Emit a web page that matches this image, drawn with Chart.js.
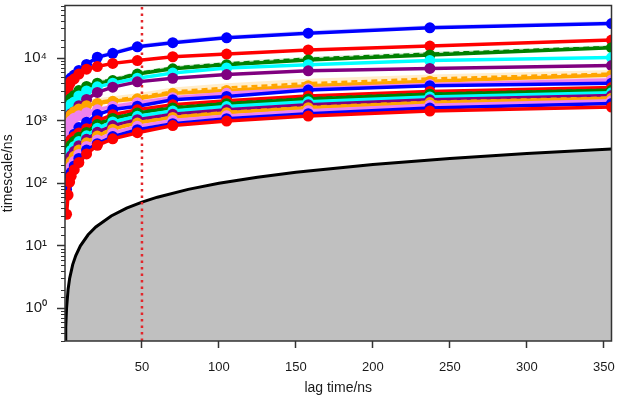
<!DOCTYPE html>
<html lang="en">
<head>
<meta charset="UTF-8">
<title>Implied timescales</title>
<script src="https://cdn.jsdelivr.net/npm/chart.js"></script>
<style>
    html, body { margin: 0; padding: 0; background: #fff; }
    canvas { display: block; }
</style>
</head>
<body>
<canvas id="itsChart" width="617" height="397"></canvas>
<script>
// lag times (ns) at which the timescales were estimated
const lagTimes = [1, 2, 3, 4, 6, 9, 14, 21, 31, 47, 70, 105, 158, 237, 355];
const xTicks = [50, 100, 150, 200, 250, 300, 350];

// maximum likelihood implied timescales (ns), slowest process first
const proc1  = [3600, 4300, 4600, 4900, 5400, 6400, 8000, 10400, 12000, 15300, 17800, 21300, 25200, 30800, 36000];
const proc2  = [2400, 3340, 3900, 4300, 4700, 5600, 6700, 7400, 8300, 9200, 10600, 11700, 13600, 15700, 19600];
const proc3  = [1600, 1930, 2150, 2300, 2550, 3050, 3550, 4000, 4400, 5600, 6800, 7900, 9400, 11300, 14800];
const proc4  = [1250, 1500, 1700, 1850, 2000, 2500, 3000, 3500, 4000, 4800, 5800, 7000, 7900, 9200, 10300];
const proc5  = [850, 1080, 1200, 1300, 1400, 1750, 2200, 2850, 3460, 4200, 4800, 5500, 6300, 6900, 7650];
const proc6  = [700, 950, 1100, 1250, 1400, 1550, 1750, 1900, 2050, 2250, 2750, 3050, 3650, 4300, 5400];
const proc7  = [650, 800, 900, 1000, 1100, 1200, 1350, 1500, 1700, 1950, 2350, 2750, 3250, 3800, 4500];
const proc8  = [250, 330, 420, 500, 610, 780, 950, 1260, 1520, 1710, 2180, 2460, 3100, 3640, 4000];
const proc9  = [300, 380, 450, 500, 560, 640, 750, 1000, 1250, 1500, 1800, 2100, 2500, 2950, 3400];
const proc10 = [240, 305, 365, 410, 470, 545, 650, 870, 1090, 1330, 1610, 1880, 2240, 2660, 3080];
const proc11 = [195, 245, 300, 335, 390, 465, 575, 760, 960, 1180, 1430, 1690, 2010, 2400, 2800];
const proc12 = [155, 195, 245, 275, 325, 400, 505, 655, 840, 1040, 1270, 1500, 1800, 2170, 2540];
const proc13 = [125, 155, 195, 225, 270, 340, 445, 570, 735, 920, 1130, 1350, 1620, 1960, 2300];
const proc14 = [100, 125, 160, 185, 225, 290, 390, 495, 640, 815, 1010, 1200, 1450, 1770, 2090];
const proc15 = [80, 100, 130, 150, 190, 250, 340, 430, 560, 720, 900, 1080, 1300, 1600, 1900];
const proc16 = [32, 65, 105, 130, 165, 215, 295, 405, 515, 645, 840, 990, 1190, 1430, 1660];

// sample means (dashed) for a few processes
const mean3  = [1650, 2000, 2250, 2400, 2650, 3150, 3700, 4150, 4600, 5800, 7100, 8300, 9900, 11900, 15200];
const mean6  = [760, 1020, 1180, 1330, 1480, 1640, 1850, 2010, 2170, 2400, 2950, 3400, 4000, 4750, 5700];
const mean10 = [250, 320, 380, 425, 490, 565, 675, 900, 1120, 1370, 1650, 1930, 2300, 2720, 3150];
const mean11 = [185, 235, 285, 320, 372, 445, 550, 730, 925, 1140, 1380, 1630, 1940, 2320, 2700];
const mean13 = [130, 162, 203, 234, 280, 352, 460, 590, 760, 950, 1170, 1390, 1670, 2020, 2370];

// confidence bands
const band1Hi = [3900, 4700, 5000, 5400, 6000, 7100, 8800, 11400, 13200, 16800, 19600, 23400, 27800, 33800, 39500];
const band3Hi = [1750, 2100, 2350, 2500, 2800, 3350, 3950, 4450, 4950, 6200, 7600, 8900, 10600, 12700, 16300];
const band6Lo = [650, 880, 1020, 1160, 1300, 1440, 1630, 1780, 1920, 2100, 2550, 2850, 3350, 3950, 4800];
const band6Hi = [880, 1180, 1350, 1520, 1700, 1880, 2100, 2300, 2480, 2750, 3400, 4000, 4700, 5500, 6500];
const band7Lo = [600, 740, 830, 920, 1010, 1100, 1240, 1380, 1560, 1780, 2150, 2520, 2980, 3480, 4100];
const band7Hi = [720, 890, 1000, 1100, 1210, 1320, 1480, 1650, 1870, 2150, 2600, 3050, 3600, 4200, 4950];

// timescale = lag time line; everything below it is not resolved
const diagLag = [0.3, 0.5, 1, 2, 3, 5, 7, 10, 15, 20, 30, 40, 50, 60, 80, 100, 125, 150, 200, 250, 300, 355];
const diagTau = [0.3, 0.5, 1, 2, 3, 5, 7, 10, 15, 20, 30, 40, 50, 60, 80, 100, 125, 150, 200, 250, 300, 355];

const chosenLag = 50;
const yMin = 0.3, yMax = 70000;

const procs = [proc1, proc2, proc3, proc4, proc5, proc6, proc7, proc8,
               proc9, proc10, proc11, proc12, proc13, proc14, proc15, proc16];
const palette = ['#0000ff', '#ff0000', '#008000', '#00ffff', '#800080', '#ffa500', '#ee82ee'];

const pts = ys => lagTimes.map((x, i) => ({ x: x, y: ys[i] }));
const isPow10 = v => { const e = Math.log10(v); return Math.abs(e - Math.round(e)) < 1e-9; };
const sup = { '0': '\u2070', '1': '\u00b9', '2': '\u00b2', '3': '\u00b3', '4': '\u2074' };

const datasets = [];

// grey region under the diagonal
datasets.push({
    data: diagLag.map((x, i) => ({ x: x, y: diagTau[i] })),
    borderColor: '#000', borderWidth: 3, backgroundColor: '#c0c0c0',
    fill: 'start', pointRadius: 0
});

// chosen lag time
datasets.push({
    data: [{ x: chosenLag, y: yMin }, { x: chosenLag, y: yMax }],
    borderColor: '#e3262b', borderWidth: 2.5, borderDash: [2.5, 4],
    pointRadius: 0, fill: false
});

function band(lo, hi, color) {
    datasets.push({ data: pts(lo), borderWidth: 0, pointRadius: 0, fill: false });
    datasets.push({ data: pts(hi), borderWidth: 0, pointRadius: 0, backgroundColor: color, fill: '-1' });
}
function dashed(ys, color) {
    datasets.push({ data: pts(ys), borderColor: color, borderWidth: 2.5, borderDash: [6, 4], pointRadius: 0, fill: false });
}

band(proc1, band1Hi, 'rgba(0,0,255,0.15)');
band(proc3, band3Hi, 'rgba(0,128,0,0.15)');
band(band6Lo, band6Hi, 'rgba(255,165,0,0.2)');
band(band7Lo, band7Hi, 'rgba(238,130,238,0.3)');

procs.forEach((ys, i) => {
    const c = palette[i % palette.length];
    datasets.push({
        data: pts(ys), borderColor: c, borderWidth: 3.5,
        pointRadius: 5.5, pointBackgroundColor: c, pointBorderWidth: 0,
        fill: false
    });
    if (i === 2) dashed(mean3, c);
    if (i === 5) dashed(mean6, c);
    if (i === 9) dashed(mean10, c);
    if (i === 10) dashed(mean11, c);
    if (i === 12) dashed(mean13, c);
});

// later datasets are drawn on top
datasets.forEach((d, i) => { d.order = datasets.length - i; d.clip = 0; d.tension = 0; });

const frame = {
    id: 'frame',
    afterDraw(chart) {
        const ctx = chart.ctx, a = chart.chartArea, y = chart.scales.y;
        ctx.save();
        ctx.strokeStyle = '#333';
        ctx.lineWidth = 1;
        y.ticks.forEach(t => {
            if (isPow10(t.value)) return;
            const py = Math.round(y.getPixelForValue(t.value)) + 0.5;
            ctx.beginPath();
            ctx.moveTo(a.left - 4, py);
            ctx.lineTo(a.left, py);
            ctx.stroke();
        });
        ctx.lineWidth = 1.5;
        ctx.strokeRect(a.left, a.top, a.right - a.left, a.bottom - a.top);
        ctx.restore();
    }
};

const fontFamily = "'Liberation Sans', Arial, sans-serif";
const noPad = s => { s.paddingTop = 0; s.paddingBottom = 0; s.paddingLeft = 0; s.paddingRight = 0; };

new Chart(document.getElementById('itsChart'), {
    type: 'line',
    data: { datasets: datasets },
    options: {
        responsive: false,
        animation: false,
        layout: { padding: { top: 2, right: 5, left: 0, bottom: 0 } },
        plugins: { legend: { display: false }, tooltip: { enabled: false } },
        scales: {
            x: {
                type: 'linear', min: 0, max: 355,
                afterBuildTicks: s => { s.ticks = xTicks.map(v => ({ value: v })); },
                afterFit: s => { s.height = 56; noPad(s); },
                border: { display: false },
                grid: { drawOnChartArea: false, tickLength: 7, tickWidth: 1.5, tickColor: '#333' },
                ticks: {
                    autoSkip: false, maxRotation: 0, padding: 12,
                    color: '#1a1a1a', font: { family: fontFamily, size: 13 },
                    callback: v => String(v)
                },
                title: {
                    display: true, text: 'lag time/ns', color: '#1a1a1a',
                    font: { family: fontFamily, size: 14 }, padding: { top: 0, bottom: 0 }
                }
            },
            y: {
                type: 'logarithmic', min: yMin, max: yMax,
                afterFit: s => { s.width = 65; noPad(s); },
                border: { display: false },
                grid: {
                    drawOnChartArea: false, tickLength: 8, tickWidth: 1.5,
                    tickColor: c => (c.tick && isPow10(c.tick.value)) ? '#333' : 'rgba(0,0,0,0)'
                },
                ticks: {
                    autoSkip: false, padding: 10,
                    color: '#1a1a1a', font: { family: fontFamily, size: 15 },
                    callback: v => isPow10(v) ? '10' + sup[String(Math.round(Math.log10(v)))] : ''
                },
                title: {
                    display: true, text: 'timescale/ns', color: '#1a1a1a',
                    font: { family: fontFamily, size: 14 }, padding: { top: 0, bottom: 1 }
                }
            }
        }
    },
    plugins: [frame]
});
</script>
</body>
</html>
